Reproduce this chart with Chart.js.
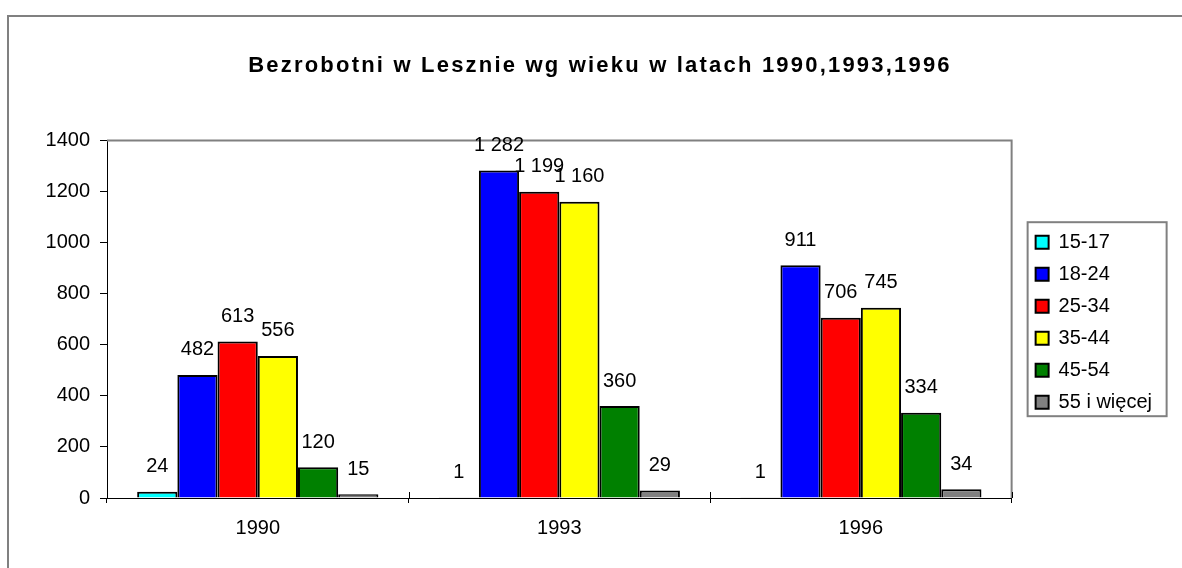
<!DOCTYPE html>
<html lang="pl">
<head>
<meta charset="utf-8">
<title>Bezrobotni w Lesznie</title>
<script src="https://cdn.jsdelivr.net/npm/chart.js@4.4.1/dist/chart.umd.min.js"></script>
<style>
    html, body { margin: 0; padding: 0; background: #fff; }
    #wrap { position: relative; width: 1182px; height: 568px; }
</style>
</head>
<body>
<div id="wrap"><canvas id="unemployment-chart"></canvas></div>
<script>
const years = ['1990', '1993', '1996'];
const ageGroups = ['15-17', '18-24', '25-34', '35-44', '45-54', '55 i więcej'];
const groupColors = ['#00FFFF', '#0000FF', '#FF0000', '#FFFF00', '#008000', '#808080'];

const age15to17 = [24, 1, 1];
const age18to24 = [482, 1282, 911];
const age25to34 = [613, 1199, 706];
const age35to44 = [556, 1160, 745];
const age45to54 = [120, 360, 334];
const age55plus = [15, 29, 34];

const yTicks = [0, 200, 400, 600, 800, 1000, 1200, 1400];

const seriesValues = [age15to17, age18to24, age25to34, age35to44, age45to54, age55plus];
const FONT = 'Arial, "Liberation Sans", sans-serif';

function formatValue(v) {
    return String(v).replace(/\B(?=(\d{3})+(?!\d))/g, ' ');
}

// frame of the whole chart, grey border of plot area, box round the legend
const framePlugin = {
    id: 'frame',
    afterLayout(chart) {
        // legend sits a bit away from the plot, like in Excel
        const legend = chart.legend;
        legend.left = chart.chartArea.right + 12;
        legend.right = legend.left + legend.width;
        legend.top += 3;
        legend.bottom += 3;
    },
    beforeDraw(chart) {
        // wider letters and centre over the whole frame, not the padded box
        const title = chart.titleBlock;
        if (title && !title._spaced) {
            const draw = title.draw.bind(title);
            title.draw = function () {
                const c = this.ctx;
                c.save();
                c.letterSpacing = '2.2px';
                c.translate(600 - (this.left + this.right) / 2, 0);
                draw();
                c.restore();
            };
            title._spaced = true;
        }
    },
    beforeDatasetsDraw(chart) {
        const { ctx, chartArea: a } = chart;
        const x = chart.scales.x;
        ctx.save();
        ctx.strokeStyle = '#808080';
        ctx.lineWidth = 2;
        ctx.beginPath();
        ctx.moveTo(a.left, a.top);
        ctx.lineTo(a.right, a.top);
        ctx.lineTo(a.right, a.bottom);
        ctx.stroke();

        // Excel cross tick marks: part above the category axis
        ctx.strokeStyle = '#000';
        ctx.lineWidth = 1;
        ctx.beginPath();
        for (let i = 0; i <= years.length; i++) {
            const px = Math.round(x.getPixelForValue(i - 0.5)) + 0.5;
            ctx.moveTo(px, a.bottom);
            ctx.lineTo(px, a.bottom - 6);
        }
        ctx.stroke();
        ctx.restore();
    },
    afterDraw(chart) {
        const { ctx } = chart;
        ctx.save();
        ctx.strokeStyle = '#808080';
        ctx.lineWidth = 2;
        ctx.beginPath();
        ctx.moveTo(1182, 16);
        ctx.lineTo(8, 16);
        ctx.lineTo(8, 568);
        ctx.stroke();

        const legend = chart.legend;
        const pad = legend.options.labels.padding;
        const boxes = legend.legendHitBoxes;
        if (boxes && boxes.length) {
            const first = boxes[0];
            const last = boxes[boxes.length - 1];
            const top = first.top - 10;
            const bottom = last.top + last.height + 4;
            ctx.strokeRect(legend.left + pad - 8, top, 139, bottom - top);
        }
        ctx.restore();
    }
};

const valueLabels = {
    id: 'valueLabels',
    afterDatasetsDraw(chart) {
        const { ctx } = chart;
        ctx.save();
        ctx.font = '20px ' + FONT;
        ctx.fillStyle = '#000';
        ctx.textAlign = 'center';
        ctx.textBaseline = 'middle';
        chart.data.datasets.forEach((ds, i) => {
            chart.getDatasetMeta(i).data.forEach((bar, j) => {
                ctx.fillText(formatValue(ds.data[j]), bar.x, bar.y - 25);
            });
        });
        ctx.restore();
    }
};

function renderChart() {
    const ctx = document.getElementById('unemployment-chart').getContext('2d');
    new Chart(ctx, {
        type: 'bar',
        data: {
            labels: years,
            datasets: ageGroups.map((name, i) => ({
                label: name,
                data: seriesValues[i],
                backgroundColor: groupColors[i],
                borderColor: '#000',
                borderWidth: 2,
                categoryPercentage: 0.8,
                barPercentage: 1.0
            }))
        },
        options: {
            responsive: true,
            maintainAspectRatio: false,
            animation: false,
            layout: { padding: { left: 20, right: 32, top: 0, bottom: 0 } },
            plugins: {
                title: {
                    display: true,
                    text: 'Bezrobotni w Lesznie wg wieku w latach 1990,1993,1996',
                    color: '#000',
                    font: { family: FONT, size: 22, weight: 'bold' },
                    padding: { top: 53, bottom: 61 }
                },
                legend: {
                    position: 'right',
                    fullSize: false,
                    labels: {
                        color: '#000',
                        font: { family: FONT, size: 20 },
                        boxWidth: 13,
                        boxHeight: 13,
                        padding: 12
                    }
                },
                tooltip: { enabled: false }
            },
            scales: {
                x: {
                    grid: { display: true, drawOnChartArea: false, offset: true, tickLength: 5, color: '#000' },
                    border: { color: '#000', width: 1 },
                    ticks: { color: '#000', font: { family: FONT, size: 20 }, padding: 13 },
                    afterFit(scale) { scale.height = 70; }
                },
                y: {
                    min: 0,
                    max: 1400,
                    afterBuildTicks(scale) { scale.ticks = yTicks.map(v => ({ value: v })); },
                    grid: { display: true, drawOnChartArea: false, tickLength: 7, color: '#000' },
                    border: { color: '#000', width: 1 },
                    ticks: {
                        color: '#000',
                        font: { family: FONT, size: 20 },
                        padding: 10,
                        callback: v => String(v)
                    },
                    afterFit(scale) { scale.width = 87; }
                }
            }
        },
        plugins: [framePlugin, valueLabels]
    });
}

renderChart();
</script>
</body>
</html>
